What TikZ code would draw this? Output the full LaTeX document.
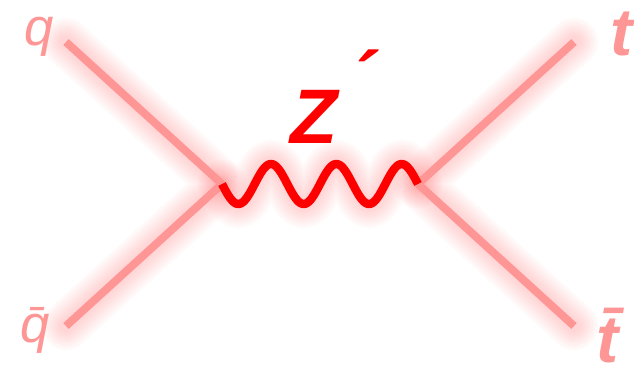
\documentclass[tikz,border=0pt]{standalone}
\usepackage{fontspec}
\setmainfont{Liberation Sans}
\usetikzlibrary{positioning}
\definecolor{quarkpink}{RGB}{255,150,150}
\definecolor{bosonred}{RGB}{255,0,0}

\begin{document}
\begin{tikzpicture}[x=0.02cm,y=-0.02cm,
  fermion/.style={draw=quarkpink,line width=4.5pt},
  boson/.style={draw=bosonred,line width=4.8pt,line join=round},
  glow/.style={draw=red,line width=#1,opacity=0.018,line cap=round,line join=round},
  lbl/.style={text=quarkpink,inner sep=0pt},
]
\useasboundingbox (0,0) rectangle (634,373);

% === vertices and end points ===
\coordinate (qin) at (66,42);
\coordinate (qbarin) at (66,326);
\coordinate (vl) at (222,184);
\coordinate (vr) at (418,184);
\coordinate (tout) at (574,42);
\coordinate (tbarout) at (574,326);

% three full waves from vl to vr (196 wide)
\def\zwave{plot[domain=0:196,samples=121,smooth] (\x,{20*sin(5.5102*\x)})}

% soft shadow under the lines
\begin{scope}[shift={(7,9)}]
\foreach \i in {1,...,9}{
  \draw[glow=4pt+\i*2.6pt] (qin) -- (vl) -- (qbarin);
  \draw[glow=4pt+\i*2.6pt] (tout) -- (vr) -- (tbarout);
  \draw[glow=4pt+\i*2.6pt,shift={(vl)}] \zwave;
}
\end{scope}

% === fermion lines ===
\draw[fermion] (qin) -- (vl);
\draw[fermion] (qbarin) -- (vl);
\draw[fermion] (vr) -- (tout);
\draw[fermion] (vr) -- (tbarout);

% === Z' propagator ===
\draw[boson,shift={(vl)}] \zwave;

% labels
\node[lbl,anchor=base west,font=\fontsize{30}{30}\selectfont\itshape] (qlbl) at (24,45) {q};
\node[lbl,anchor=base west,font=\fontsize{30}{30}\selectfont\itshape] (qbarlbl) at (20,342) {\={q}};
\node[lbl,anchor=base west,font=\fontsize{38}{38}\selectfont\bfseries\itshape] (tlbl) at (610,55) {t};
\node[lbl,anchor=base west,font=\fontsize{38}{38}\selectfont\bfseries\itshape] (tbarlbl) at (596,362) {\={t}};
\node[text=bosonred,inner sep=0pt,anchor=base west,font=\fontsize{44}{44}\selectfont\bfseries\itshape] (zlbl) at (290,143) {Z\hspace{7pt}\raisebox{21pt}{´}};
\end{tikzpicture}
\end{document}
